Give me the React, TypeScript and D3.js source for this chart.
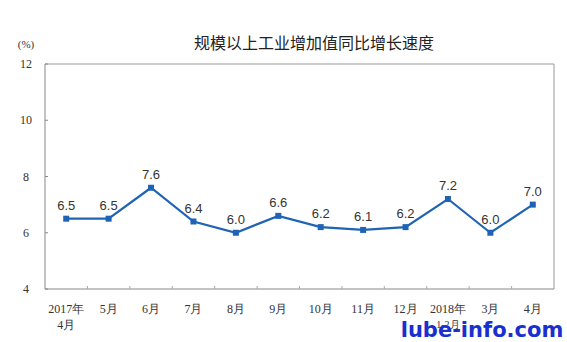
import React from "react";
import * as d3 from "d3";

const categories = ["2017年|4月", "5月", "6月", "7月", "8月", "9月", "10月", "11月", "12月", "2018年|1-2月", "3月", "4月"];
const values = [6.5, 6.5, 7.6, 6.4, 6.0, 6.6, 6.2, 6.1, 6.2, 7.2, 6.0, 7.0];
const yTicks = [4, 6, 8, 10, 12];
const title = "规模以上工业增加值同比增长速度";
const unit = "(%)";
const watermark = "lube-info.com";

const W = 567, H = 342;
const M = { left: 45, right: 13, top: 64, bottom: 53 };

export default function App() {
  const x = d3.scaleBand<string>().domain(categories).range([M.left, W - M.right]);
  const y = d3.scaleLinear().domain([4, 12]).range([H - M.bottom, M.top]);
  const cx = (c: string) => (x(c) as number) + x.bandwidth() / 2;
  const pts: [number, number][] = categories.map((c, i) => [cx(c), y(values[i])]);
  const line = d3.line()(pts) as string;
  const serif = "'Liberation Serif', 'Times New Roman', serif";
  const sans = "'Liberation Sans', Arial, sans-serif";
  const cjk = "'Noto Sans CJK SC', sans-serif";
  const x0 = M.left, x1 = W - M.right, yb = H - M.bottom, yt = M.top;
  return (
    <svg width={W} height={H} style={{ position: "absolute", left: 0, top: 0 }}>
      <rect width={W} height={H} fill="#fff" />
      <text x={314} y={49} textAnchor="middle" fontFamily={cjk} fontSize={16} fill="#222">{title}</text>
      <text x={26} y={48} textAnchor="middle" fontFamily={serif} fontSize={11} fill="#333">{unit}</text>
      {/* frame */}
      <line x1={x0} x2={x1} y1={yt} y2={yt} stroke="#999" />
      <line x1={x1} x2={x1} y1={yt} y2={yb} stroke="#999" />
      <line x1={x0} x2={x0} y1={yt} y2={yb} stroke="#888" />
      <line x1={x0} x2={x1} y1={yb} y2={yb} stroke="#888" />
      {yTicks.map(t => (
        <g key={t}>
          <line x1={x0} x2={x0 + 3} y1={y(t)} y2={y(t)} stroke="#888" />
          <text x={26} y={y(t) + 4} textAnchor="middle" fontFamily={serif} fontSize={12} fill="#333">{t}</text>
        </g>
      ))}
      {categories.slice(1).map(c => (
        <line key={c} x1={x(c)} x2={x(c)} y1={yb} y2={yb - 3} stroke="#aaa" />
      ))}
      {categories.map(c => {
        const parts = c.split("|");
        return (
          <text key={c} x={cx(c)} y={yb + 24} textAnchor="middle" fontFamily={serif} fontSize={12} fill="#333">
            <tspan x={cx(c)}>{parts[0]}</tspan>
            {parts[1] && <tspan x={cx(c)} dy={parts[1].length > 2 ? 15 : 16} fontSize={parts[1].length > 2 ? 10 : 12}>{parts[1]}</tspan>}
          </text>
        );
      })}
      <path d={line} fill="none" stroke="#1f64b4" strokeWidth={2.2} />
      {pts.map((p, i) => (
        <g key={i}>
          <rect x={p[0] - 3} y={p[1] - 3} width={6} height={6} fill="#1f64b4" />
          <text x={p[0]} y={p[1] - 9} textAnchor="middle" fontFamily={sans} fontSize={13} fill="#333">{values[i].toFixed(1)}</text>
        </g>
      ))}
      <text x={482} y={337} textAnchor="middle" fontFamily="'DejaVu Sans', sans-serif" fontWeight="bold" fontSize={21} fill="#1a2fd0">{watermark}</text>
    </svg>
  );
}
